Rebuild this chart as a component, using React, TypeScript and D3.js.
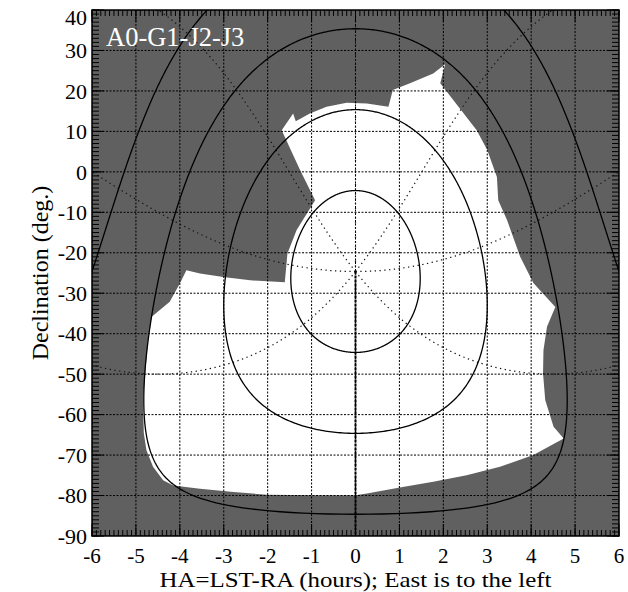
import React from "react";
import * as d3 from "d3";

// ---- data ----
const TITLE = "A0-G1-J2-J3";
const X_LABEL = "HA=LST-RA (hours); East is to the left";
const Y_LABEL = "Declination (deg.)";
const SITE_LATITUDE = -24.63; // deg (zenith declination)
const ALTITUDE_CONTOURS = [10, 30, 50, 70]; // deg, solid curves
const AZIMUTH_LINES = [0, 45, 90, 135, 180, 225, 270, 315]; // deg, dotted curves
const HA_TICKS = [-6, -5, -4, -3, -2, -1, 0, 1, 2, 3, 4, 5, 6];
const DEC_TICKS = [40, 30, 20, 10, 0, -10, -20, -30, -40, -50, -60, -70, -80, -90];

// observable sky coverage boundary (hour angle, declination)
const COVERAGE_HA = [
  -1.68, -1.42, -1.36, -1.04, -0.66, -0.2, 0.26, 0.75, 0.85, 1.24, 1.77, 2.04, 1.93, 2.23,
  2.76, 3.0, 3.22, 3.25, 3.45, 3.75, 4.05, 4.55, 4.36, 4.28, 4.27, 4.32, 4.51, 4.74, 4.05,
  3.29, 2.53, 1.77, 1.01, 0.26, 0.0, -0.81, -2.02, -2.78, -3.54, -4.15, -4.38, -4.61, -4.76,
  -4.82, -4.84, -4.8, -4.72, -4.64, -4.23, -4.0, -3.85, -3.54, -3.01, -2.4, -1.61, -1.55,
  -1.34, -0.92, -1.26,
];
const COVERAGE_DEC = [
  10.3, 14.4, 12.5, 14.4, 16.1, 17.1, 16.9, 16.1, 20.2, 21.9, 24.3, 26.6, 21.9, 17.7, 10.3,
  5.4, -1.3, -7.0, -11.9, -21.0, -27.5, -33.4, -38.3, -44.1, -49.8, -56.4, -63.0, -65.9,
  -70.0, -72.9, -75.0, -76.6, -78.0, -79.5, -79.9, -79.9, -79.8, -79.1, -78.3, -77.5, -76.2,
  -72.9, -68.8, -64.6, -56.4, -51.5, -40.8, -35.8, -32.1, -27.6, -24.3, -25.1, -26.0, -26.8,
  -27.3, -20.2, -14.4, -7.0, 0.4,
];

// ---- layout ----
const W = 628;
const H = 592;
const L = 92, R = 619, T = 10, B = 536;
const GRAY = "#606060";
const FONT = "'Liberation Serif', 'Times New Roman', serif";

const x = d3.scaleLinear().domain([-6, 6]).range([L, R]);
const y = d3.scaleLinear().domain([-90, 40]).range([B, T]);

const rad = Math.PI / 180;
// convert horizontal coords (alt, az) to (hour angle [h], dec [deg])
function horizToEq(alt: number, az: number): [number, number] {
  const phi = SITE_LATITUDE * rad;
  const a = alt * rad;
  const A = az * rad;
  const sd = Math.cos(a) * Math.cos(A) * Math.cos(phi) + Math.sin(a) * Math.sin(phi);
  const dec = Math.asin(Math.max(-1, Math.min(1, sd)));
  const ha = Math.atan2(
    -Math.cos(a) * Math.sin(A),
    Math.sin(a) * Math.cos(phi) - Math.cos(a) * Math.cos(A) * Math.sin(phi)
  );
  return [ha / rad / 15, dec / rad];
}

function breakPath(pts: [number, number][]): ([number, number] | null)[] {
  const out: ([number, number] | null)[] = [];
  for (let i = 0; i < pts.length; i++) {
    if (i > 0 && Math.abs(pts[i][0] - pts[i - 1][0]) > 6) out.push(null);
    out.push(pts[i]);
  }
  return out;
}

const line = d3
  .line<[number, number] | null>()
  .defined((d) => d !== null)
  .x((d) => x((d as [number, number])[0]))
  .y((d) => y((d as [number, number])[1]));

export default function App() {
  const contourPaths = ALTITUDE_CONTOURS.map((alt) => {
    const pts: [number, number][] = d3.range(0, 360.5, 0.5).map((az) => horizToEq(alt, az));
    return line(breakPath(pts)) || "";
  });
  const azimuthPaths = AZIMUTH_LINES.map((az) => {
    const pts: [number, number][] = d3.range(90, -0.01, -0.25).map((alt) => horizToEq(alt, az));
    return line(breakPath(pts)) || "";
  });
  const coverage = COVERAGE_HA.map((h, i) => [h, COVERAGE_DEC[i]] as [number, number]);
  const coveragePath = (line(coverage) || "") + "Z";

  const haMinor = d3.range(-6, 6.0001, 0.1);
  const decMinor = d3.range(-90, 40.0001, 1);

  return (
    <svg width={W} height={H} style={{ display: "block", position: "absolute", left: 0, top: 0 }}>
      <defs>
        <clipPath id="plotClip">
          <rect x={L} y={T} width={R - L} height={B - T} />
        </clipPath>
      </defs>
      <rect x={0} y={0} width={W} height={H} fill="#fff" />
      <rect x={L} y={T} width={R - L} height={B - T} fill={GRAY} />
      <g clipPath="url(#plotClip)">
        <path d={coveragePath} fill="#fff" stroke="none" />
        {/* grid */}
        {HA_TICKS.map((h) => (
          <line key={"gx" + h} x1={x(h)} x2={x(h)} y1={T} y2={B} stroke="#000" strokeWidth={1} strokeDasharray="2,1.5" />
        ))}
        {DEC_TICKS.map((d) => (
          <line key={"gy" + d} x1={L} x2={R} y1={y(d)} y2={y(d)} stroke="#000" strokeWidth={1} strokeDasharray="2,1.5" />
        ))}
        {/* azimuth lines */}
        {azimuthPaths.map((p, i) => (
          <path key={"az" + i} d={p} fill="none" stroke="#111" strokeWidth={1.2} strokeDasharray="1.3,3.5" />
        ))}
        {/* meridian below zenith */}
        <line x1={x(0)} x2={x(0)} y1={y(SITE_LATITUDE)} y2={B} stroke="#000" strokeWidth={2} strokeDasharray="3,1" />
        {/* altitude contours */}
        {contourPaths.map((p, i) => (
          <path key={"alt" + i} d={p} fill="none" stroke="#000" strokeWidth={1.3} />
        ))}
      </g>
      {/* minor ticks */}
      {haMinor.map((h, i) => (
        <g key={"mx" + i}>
          <line x1={x(h)} x2={x(h)} y1={B} y2={B - 6} stroke="#000" strokeWidth={1} />
          <line x1={x(h)} x2={x(h)} y1={T} y2={T + 6} stroke="#000" strokeWidth={1} />
        </g>
      ))}
      {decMinor.map((d, i) => (
        <g key={"my" + i}>
          <line x1={L} x2={L + 7} y1={y(d)} y2={y(d)} stroke="#000" strokeWidth={1} />
          <line x1={R} x2={R - 7} y1={y(d)} y2={y(d)} stroke="#000" strokeWidth={1} />
        </g>
      ))}
      {/* major ticks */}
      {HA_TICKS.map((h) => (
        <g key={"Mx" + h}>
          <line x1={x(h)} x2={x(h)} y1={B} y2={B - 12} stroke="#000" strokeWidth={1} />
          <line x1={x(h)} x2={x(h)} y1={T} y2={T + 12} stroke="#000" strokeWidth={1} />
        </g>
      ))}
      {DEC_TICKS.map((d) => (
        <g key={"My" + d}>
          <line x1={L} x2={L + 12} y1={y(d)} y2={y(d)} stroke="#000" strokeWidth={1} />
          <line x1={R} x2={R - 12} y1={y(d)} y2={y(d)} stroke="#000" strokeWidth={1} />
        </g>
      ))}
      <rect x={L} y={T} width={R - L} height={B - T} fill="none" stroke="#000" strokeWidth={1.5} />
      {/* tick labels */}
      {HA_TICKS.map((h) => (
        <text key={"lx" + h} x={x(h)} y={562.5} textAnchor="middle" fontFamily={FONT} fontSize={21} fill="#000">
          {String(h)}
        </text>
      ))}
      {DEC_TICKS.map((d) => (
        <text key={"ly" + d} x={87} y={Math.max(y(d), 17)} dy="0.35em" textAnchor="end" fontFamily={FONT} fontSize={22} fill="#000">
          {String(d)}
        </text>
      ))}
      <text
        x={(L + R) / 2}
        y={587}
        textAnchor="middle"
        fontFamily={FONT}
        fontSize={22}
        textLength={392}
        lengthAdjust="spacingAndGlyphs"
        fill="#000"
      >
        {X_LABEL}
      </text>
      <text transform={`translate(48,${(T + B) / 2}) rotate(-90)`} textAnchor="middle" fontFamily={FONT} fontSize={24} fill="#000">
        {Y_LABEL}
      </text>
      <text x={106} y={46} fontFamily={FONT} fontSize={26.5} fill="#fff">
        {TITLE}
      </text>
    </svg>
  );
}
